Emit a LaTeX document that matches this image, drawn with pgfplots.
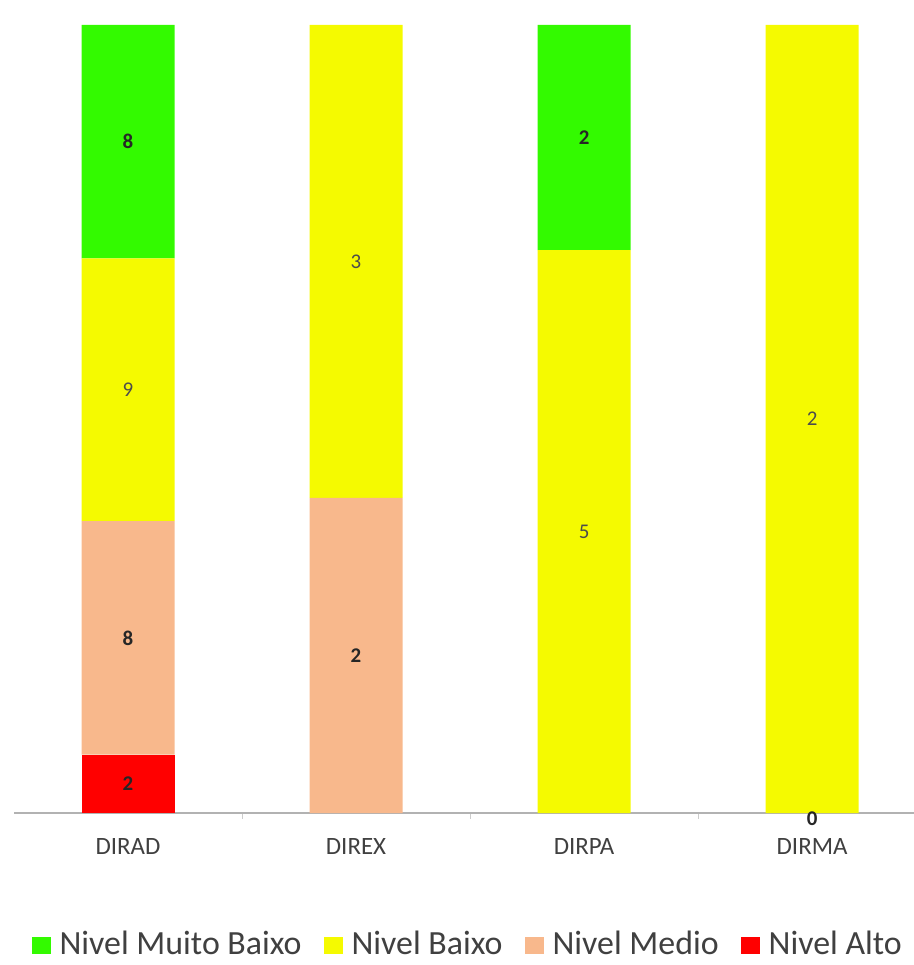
\documentclass[border=0pt]{standalone}
\usepackage{pgfplots}
\pgfplotsset{compat=1.18}
\usepackage{pgfplotstable}
\usepackage{fontspec}
\setmainfont{Carlito}

\definecolor{mbaixo}{HTML}{33FA00}
\definecolor{baixo}{HTML}{F5FA00}
\definecolor{medio}{HTML}{F8B88C}
\definecolor{alto}{HTML}{FF0000}
\definecolor{txt}{HTML}{404040}

% share of each level per directorate (pct) and the count shown on the bar (lab)
\pgfplotstableread{
x pct lab
0 7.407 2
1 0 {}
2 0 {}
3 0 {}
}\alto
\pgfplotstableread{
x pct lab
0 29.630 8
1 40 2
2 0 {}
3 0 {}
}\medio
\pgfplotstableread{
x pct lab
0 33.333 9
1 60 3
2 71.429 5
3 100 2
}\baixo
\pgfplotstableread{
x pct lab
0 29.630 8
1 0 {}
2 28.571 2
3 0 {}
}\mbaixo

\begin{document}
\begin{tikzpicture}
\useasboundingbox (0,0) rectangle (914bp,965bp);
\begin{axis}[
    at={(14bp,152bp)}, anchor=south west,
    scale only axis, width=900bp, height=788bp,
    ybar stacked, bar width=93bp,
    ymin=0, ymax=100, xmin=-0.5, xmax=3.447,
    clip=false,
    axis y line=none,
    axis x line*=bottom,
    x axis line style={draw=black!30, line width=1.2bp, -},
    xtick={0,1,2,3},
    xticklabels={DIRAD,DIREX,DIRPA,DIRMA},
    major x tick style={draw=none},
    minor xtick={0.5,1.5,2.5},
    minor x tick style={draw=black!20, line width=0.8bp},
    minor tick length=6bp,
    tick align=outside,
    xticklabel style={font=\fontsize{25}{27}\selectfont, text=txt, yshift=-18bp},
    point meta=explicit symbolic,
    nodes near coords,
    every node near coord/.append style={anchor=center, text=black!85,
        font=\fontsize{21}{23}\selectfont},
    reverse legend,
    legend columns=4,
    legend style={at={(0.503,-0.165)}, anchor=center, draw=none, fill=none,
        font=\fontsize{34}{36}\selectfont, text=txt,
        inner sep=1bp, nodes={inner sep=0pt},
        /tikz/every odd column/.append style={column sep=9bp},
        /tikz/every even column/.append style={column sep=22bp}},
    legend image code/.code={\fill[#1] (0bp,-10.5bp) rectangle (19bp,6.5bp);},
]
\addplot[fill=alto, draw=none, every node near coord/.append style={font=\fontsize{21}{23}\selectfont\bfseries}]
    table[x=x, y=pct, meta=lab] {\alto};
\addplot[fill=medio, draw=none, every node near coord/.append style={font=\fontsize{21}{23}\selectfont\bfseries}]
    table[x=x, y=pct, meta=lab] {\medio};
\addplot[fill=baixo, draw=none, every node near coord/.append style={text=black!70}]
    table[x=x, y=pct, meta=lab] {\baixo};
\addplot[fill=mbaixo, draw=none, every node near coord/.append style={font=\fontsize{21}{23}\selectfont\bfseries}]
    table[x=x, y=pct, meta=lab] {\mbaixo};
\legend{Nivel Alto, Nivel Medio, Nivel Baixo, Nivel Muito Baixo}
% the zero count of Nivel Alto in DIRMA, written on the axis line
\addplot[forget plot, stack plots=false, sharp plot, draw=none, mark=none,
    every node near coord/.append style={font=\fontsize{21}{23}\selectfont\bfseries, yshift=-6bp}]
    coordinates {(3,0) [0]};
\end{axis}
\end{tikzpicture}
\end{document}
